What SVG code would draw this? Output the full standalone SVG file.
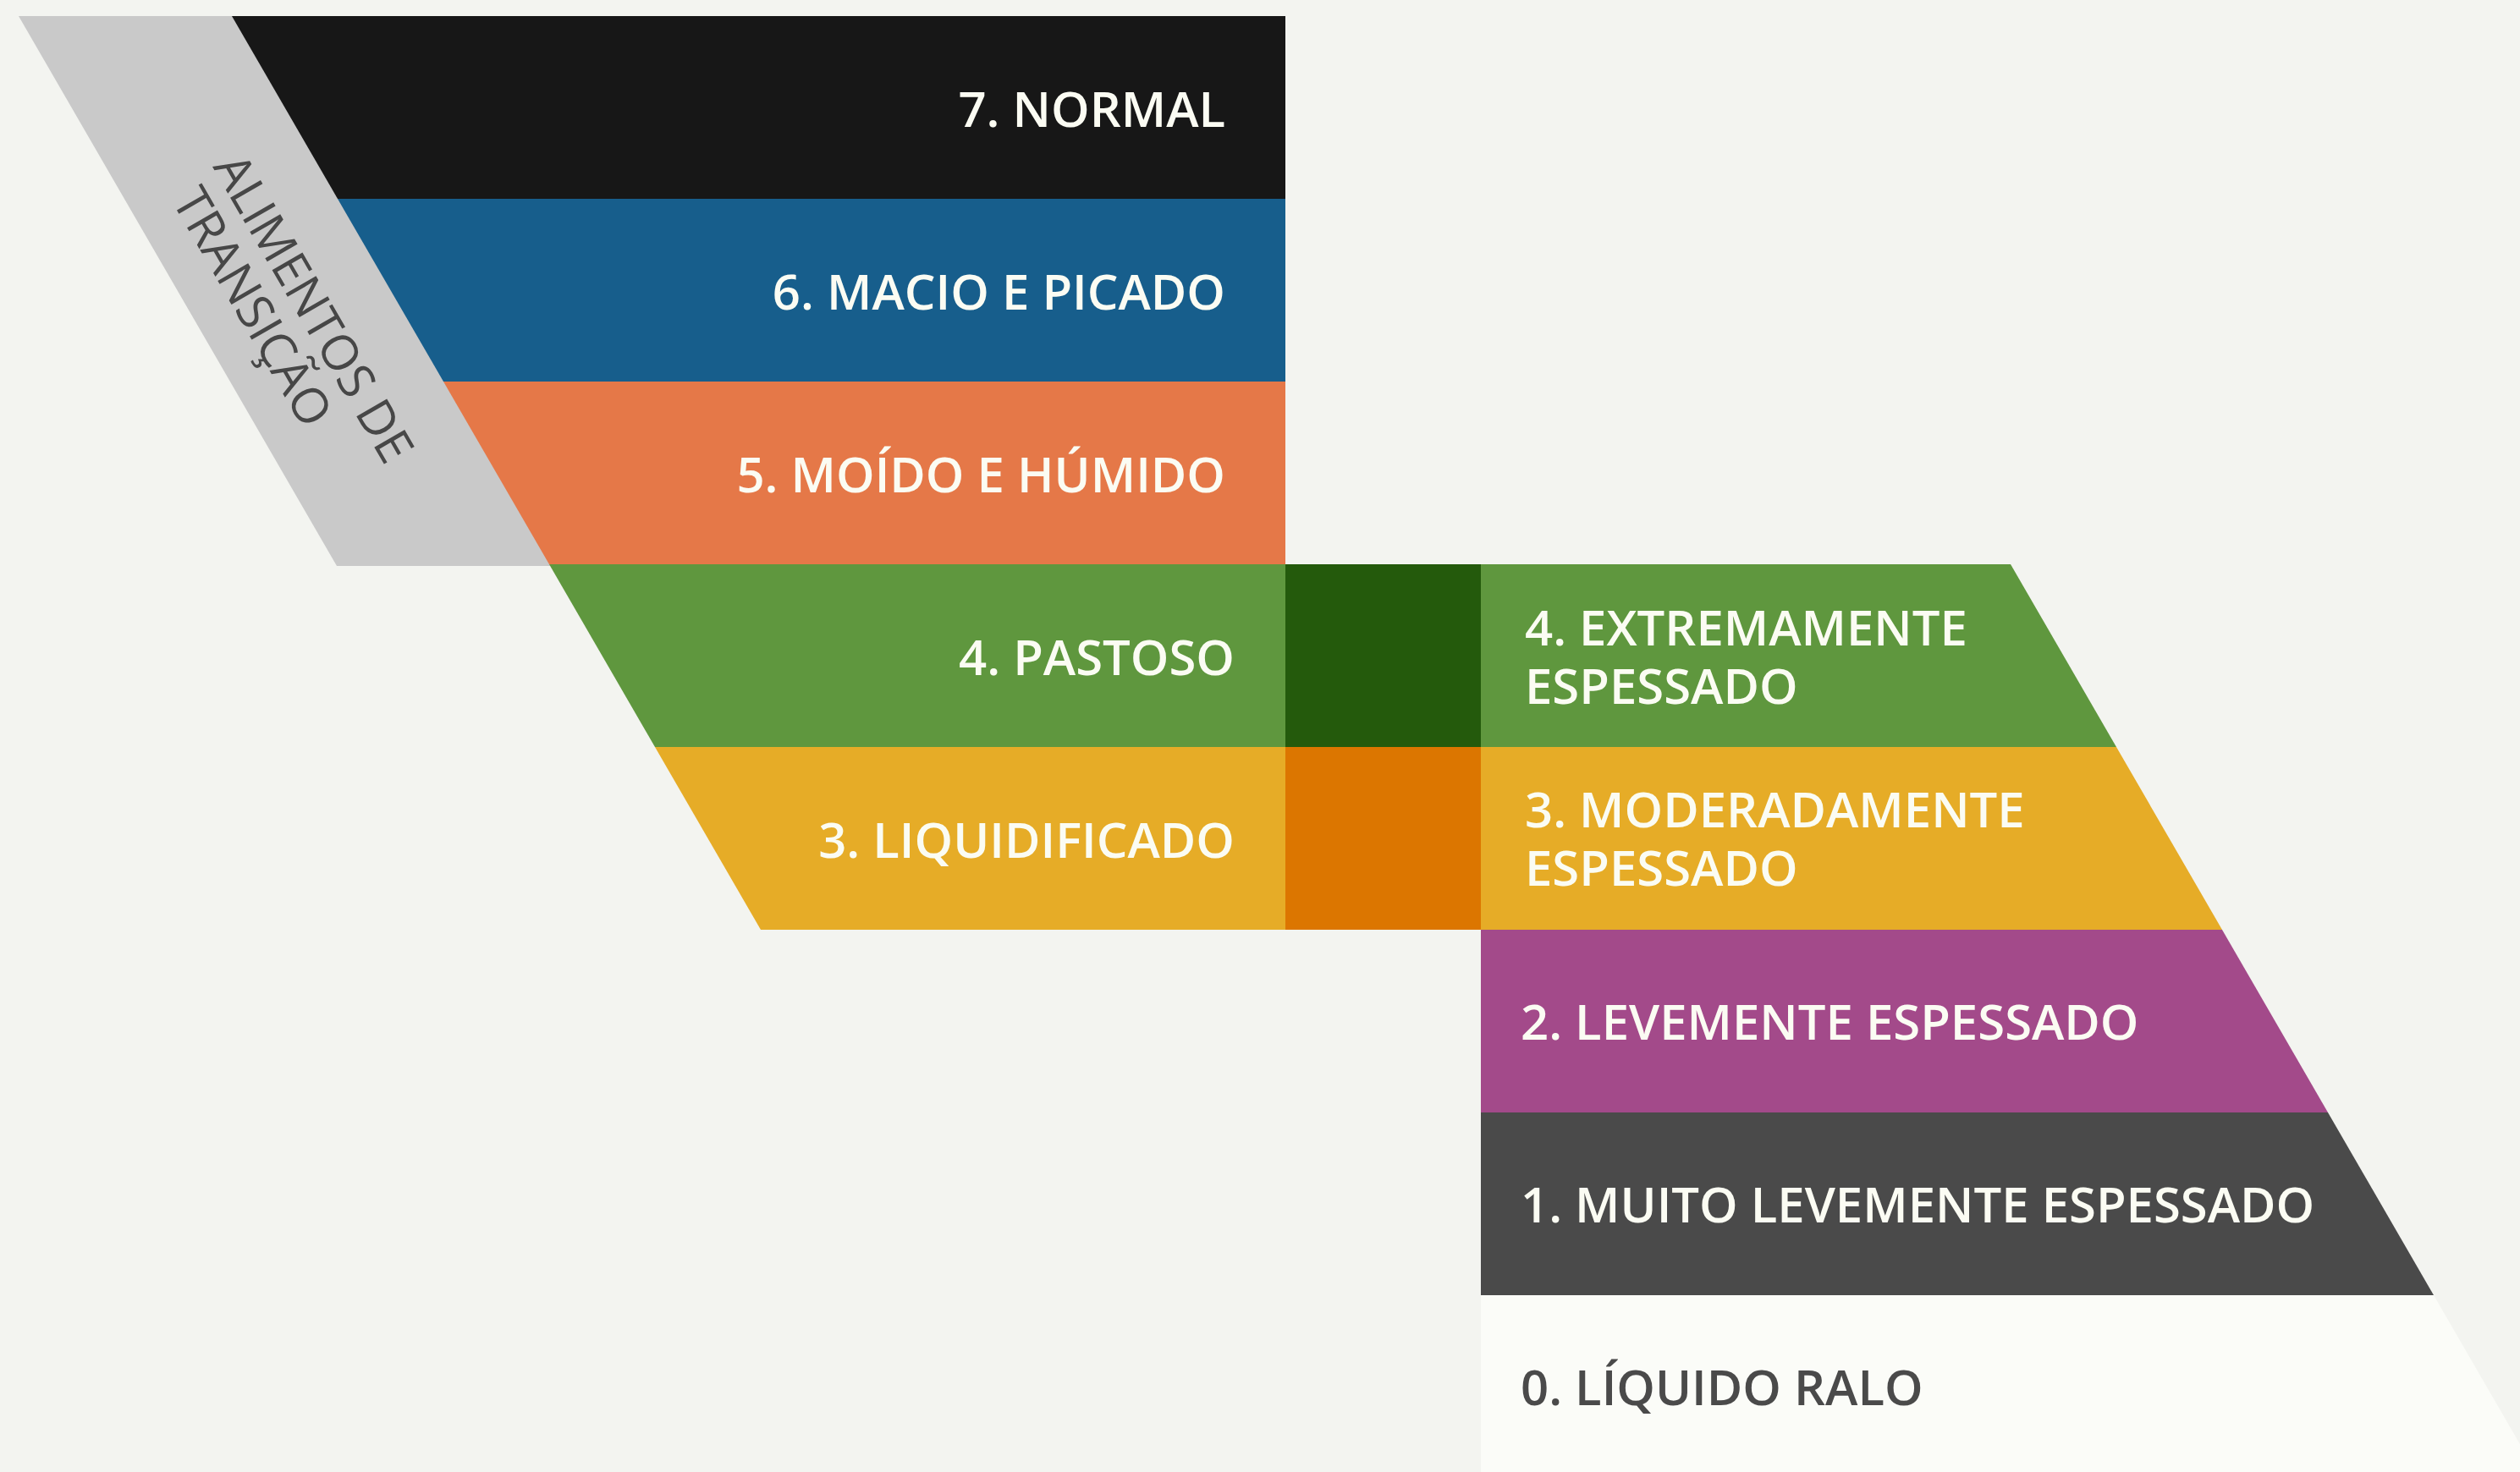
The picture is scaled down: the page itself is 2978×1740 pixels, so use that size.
<svg xmlns="http://www.w3.org/2000/svg" width="2978" height="1740" viewBox="0 0 2978 1740">
<style>
.lbl{font-family:"Open Sans","Noto Sans","Liberation Sans",sans-serif;font-weight:600;font-size:58px;fill:#fbfcf3}
.end{text-anchor:end}
.dark{fill:#4a4a4a}
.side{font-family:"Open Sans","Noto Sans","Liberation Sans",sans-serif;font-weight:400;font-size:58px;fill:#474747}
</style>
<rect x="0" y="0" width="2978" height="1740" fill="#f3f4f0"/>
<g id="transicao">
<polygon points="22,19 300,19 660,669 398,669" fill="#c9c9c9"/>
<g transform="translate(251,197) rotate(60)">
<text class="side" x="0" y="0">ALIMENTOS DE<tspan x="10" y="62">TRANSIÇÃO</tspan></text>
</g>
</g>
<g id="n7">
<polygon points="274,19 1519,19 1519,235 399,235" fill="#171717"/>
<text class="lbl end" x="1448" y="150">7. NORMAL</text>
</g>
<g id="n6">
<polygon points="399,235 1519,235 1519,451 524,451" fill="#175e8c"/>
<text class="lbl end" x="1448" y="366">6. MACIO E PICADO</text>
</g>
<g id="n5">
<polygon points="524,451 1519,451 1519,667 649,667" fill="#e57848"/>
<text class="lbl end" x="1448" y="582">5. MOÍDO E HÚMIDO</text>
</g>
<g id="n4food">
<polygon points="649,667 1519,667 1519,883 774,883" fill="#5f973e"/>
<text class="lbl end" x="1459" y="798">4. PASTOSO</text>
</g>
<g id="n3food">
<polygon points="774,883 1519,883 1519,1099 899,1099" fill="#e6ac27"/>
<text class="lbl end" x="1459" y="1014">3. LIQUIDIFICADO</text>
</g>
<g id="overlap4">
<rect x="1519" y="667" width="231" height="216" fill="#245a0c"/>
</g>
<g id="overlap3">
<rect x="1519" y="883" width="231" height="216" fill="#dc7600"/>
</g>
<g id="n4drink">
<polygon points="1750,667 2376,667 2501,883 1750,883" fill="#5f973e"/>
<text class="lbl" x="1802" y="763">4. EXTREMAMENTE<tspan x="1802" y="832">ESPESSADO</tspan></text>
</g>
<g id="n3drink">
<polygon points="1750,883 2501,883 2626,1099 1750,1099" fill="#e6ac27"/>
<text class="lbl" x="1802" y="978">3. MODERADAMENTE<tspan x="1802" y="1047">ESPESSADO</tspan></text>
</g>
<g id="n2">
<polygon points="1750,1099 2626,1099 2751,1315 1750,1315" fill="#a34a8a"/>
<text class="lbl" x="1797" y="1229">2. LEVEMENTE ESPESSADO</text>
</g>
<g id="n1">
<polygon points="1750,1315 2751,1315 2876,1531 1750,1531" fill="#4a4a4a"/>
<text class="lbl" x="1797" y="1445">1. MUITO LEVEMENTE ESPESSADO</text>
</g>
<g id="n0">
<polygon points="1750,1531 2876,1531 3001,1747 1750,1747" fill="#fbfcf8"/>
<text class="lbl dark" x="1797" y="1661">0. LÍQUIDO RALO</text>
</g>
<g id="connectors"></g>
</svg>
